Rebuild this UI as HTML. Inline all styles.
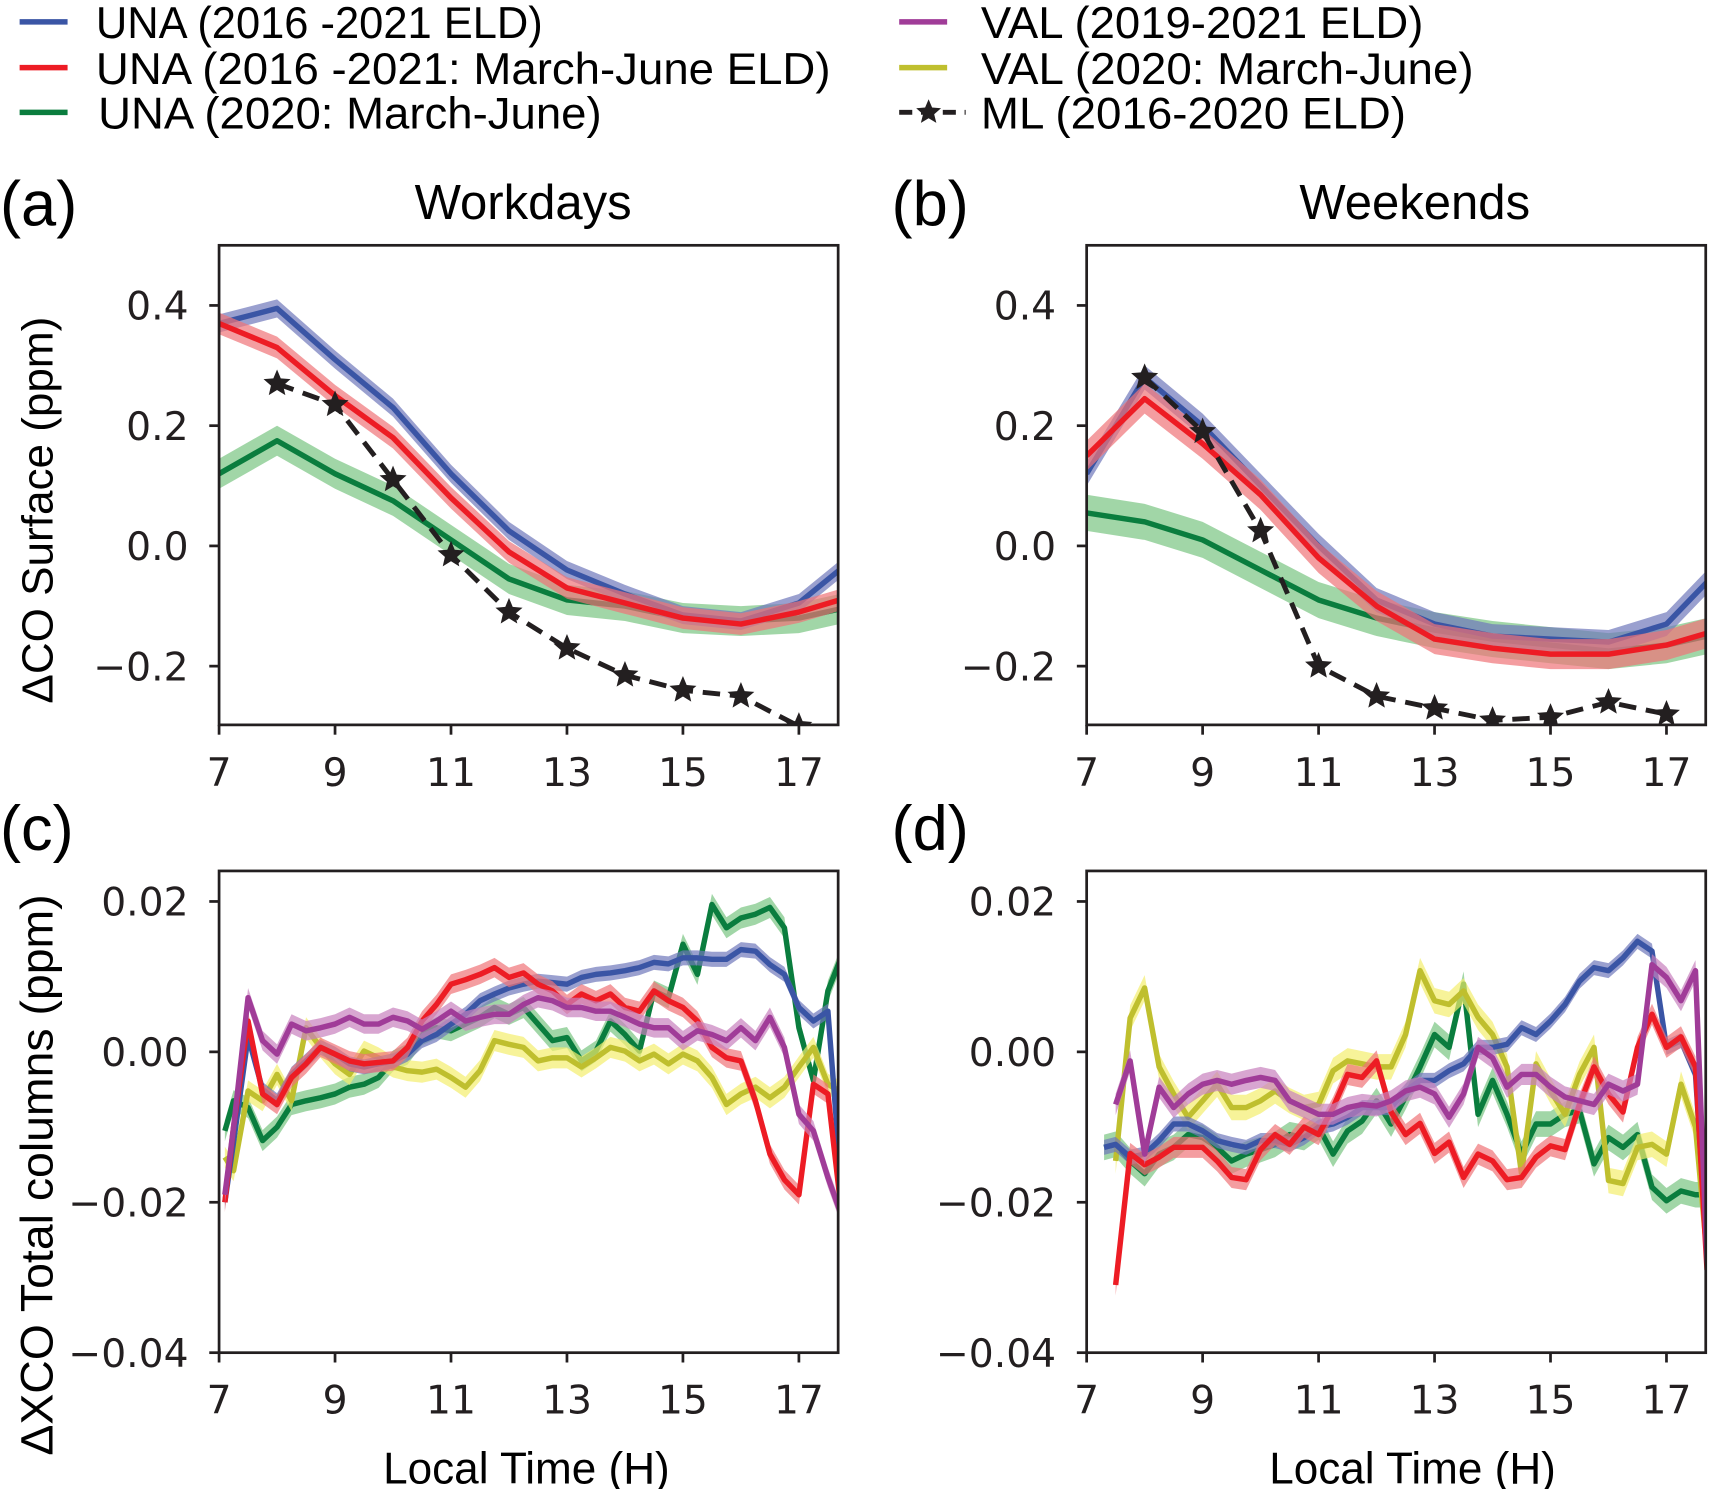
<!DOCTYPE html>
<html><head><meta charset="utf-8">
<style>
html,body{margin:0;padding:0;background:#fff;}
svg{display:block;}
.tk{font-family:"DejaVu Sans","Liberation Sans",sans-serif;font-size:36px;fill:#231f20;}
.lb{font-family:"Liberation Sans",sans-serif;fill:#000;}
</style></head>
<body>
<svg id="fig" width="1709" height="1489" viewBox="0 0 1568 1366" xmlns="http://www.w3.org/2000/svg">
<g id="legend"></g>
<g id="plots"></g>
</svg>
<script>
// ---------- data ----------
const hours = [7,8,9,10,11,12,13,14,15,16,17,17.7];
const mlHours = [8,9,10,11,12,13,14,15,16,17];
const aBlue  = [0.37,0.395,0.31,0.23,0.12,0.025,-0.04,-0.08,-0.115,-0.125,-0.095,-0.04];
const aRed   = [0.37,0.33,0.25,0.18,0.08,-0.01,-0.07,-0.095,-0.12,-0.13,-0.11,-0.09];
const aGreen = [0.12,0.175,0.12,0.075,0.01,-0.055,-0.09,-0.1,-0.12,-0.125,-0.12,-0.105];
const aML    = [0.27,0.235,0.11,-0.015,-0.11,-0.17,-0.215,-0.24,-0.25,-0.3];
const bBlue  = [0.12,0.28,0.2,0.1,0.0,-0.09,-0.13,-0.15,-0.155,-0.16,-0.13,-0.06];
const bRed   = [0.15,0.245,0.17,0.085,-0.02,-0.1,-0.155,-0.17,-0.18,-0.18,-0.165,-0.145];
const bGreen = [0.055,0.04,0.01,-0.04,-0.09,-0.12,-0.14,-0.155,-0.165,-0.175,-0.165,-0.15];
const bML    = [0.28,0.19,0.025,-0.2,-0.25,-0.27,-0.29,-0.285,-0.26,-0.28];

// bottom panels, values in 1e-3 ppm
const cTimes = [7.1,7.25,7.5,7.75,8,8.25,8.5,8.75,9,9.25,9.5,9.75,10,10.25,10.5,10.75,11,11.25,11.5,11.75,12,12.25,12.5,12.75,13,13.25,13.5,13.75,14,14.25,14.5,14.75,15,15.25,15.5,15.75,16,16.25,16.5,16.75,17,17.25,17.5,17.7];
const cRed    = [-20,-10,4.1,-5.6,-7,-3.4,-1.6,0.6,-0.3,-1.2,-1.6,-1.4,-1.2,0.6,4.1,6.3,9,9.6,10.3,11.2,9.9,10.5,9,8.1,6.3,7.7,6.8,7.7,5.9,5.4,8.1,6.8,5.9,4.1,0.6,-0.8,-1.2,-6.5,-13.6,-17,-19,-4.3,-5.6,-19];
const cBlue   = [-20,-12,2,-5,-6.5,-3,-1.2,0.6,-0.3,-1.6,-2,-1.6,-1.2,-0.3,1.5,2.3,3.7,5,6.8,7.7,8.5,9,9.4,9.2,9,9.9,10.3,10.5,10.8,11.2,11.9,11.7,12.5,12.5,12.3,12.3,13.6,13.4,11.6,10.3,5.9,4.1,5.4,-14.5];
const cMag    = [-19,-10,7.2,1.5,-0.3,3.7,2.8,3.2,3.7,4.6,3.7,3.7,4.6,4.1,3,4.1,5.4,4.1,4.6,5,5,6.3,7.2,6.8,5.9,5.9,5.4,5.4,4.6,3.7,3.2,3.2,1.5,2.8,2.3,1.5,3.2,1.5,4.6,0.6,-8.3,-10.5,-16.7,-21];
const cGreen  = [-10.5,-6.5,-7.4,-11.8,-10,-7,-6.5,-6.1,-5.6,-4.7,-4.3,-3.4,-1.2,-0.3,2.3,3.2,2.8,3.7,4.6,5.9,5,5.9,3.7,1.5,1.9,-1.2,0.1,4.1,2.3,0.1,8.1,7.2,14.3,10.3,19.6,16.5,17.8,18.3,19.2,16.5,3.2,-3.8,8.1,12];
const cYellow = [-14,-15.8,-5.2,-6.5,-3,-6.5,3.2,0.6,-1.6,-3,0.1,-0.8,-2,-2.5,-2.7,-2.3,-3.4,-4.7,-2.5,1.5,1,0.6,-1.2,-0.8,-0.8,-2,-0.8,0.6,0.1,-1.2,-0.3,-1.6,-0.3,-1.2,-3.4,-7,-5.6,-4.7,-6.1,-4.7,-2,0.6,-4.3,-5.2];

const dTimes = [7.3,7.5,7.75,8,8.25,8.5,8.75,9,9.25,9.5,9.75,10,10.25,10.5,10.75,11,11.25,11.5,11.75,12,12.25,12.5,12.75,13,13.25,13.5,13.75,14,14.25,14.5,14.75,15,15.25,15.5,15.75,16,16.25,16.5,16.75,17,17.25,17.5,17.7];
const dRed    = [null,-31,-13.5,-15,-14,-12.7,-12.7,-12.7,-14.5,-16.7,-17,-13,-11,-12.3,-10,-11,-7.4,-3,-3.4,-1.2,-8,-11,-9.5,-13.5,-12,-16.7,-13.6,-14.5,-17,-16.7,-14,-12.5,-13,-7,-2,-5.6,-8,0.6,5,0.6,2,-2,-29];
const dBlue   = [-12.7,-12.3,-14,-13.6,-11.8,-9.6,-9.6,-10.5,-11.8,-12.3,-12.7,-11.8,-11.8,-12.3,-11.4,-10,-9.6,-8.7,-7.4,-7.4,-7.4,-5.2,-3.8,-3.8,-2.5,-1.6,0.6,0.6,1,3.2,2.3,4.1,6.3,9.4,11.2,10.8,12.5,14.7,13.4,0.6,1.5,-3,-27];
const dMag    = [null,-7,-1.2,-13.6,-4.7,-7.4,-5.6,-4.3,-3.8,-4.3,-3.8,-3.4,-3.8,-6.5,-7.4,-8.3,-8.3,-7.4,-7,-7.2,-6.5,-5.2,-4.7,-5.6,-8.7,-5.6,0.6,-0.8,-4.7,-3,-3,-4.7,-6,-6.5,-7,-4.3,-5.2,-4.3,11.6,9.9,6.8,10.8,-28];
const dGreen  = [-12.7,-12.3,-14.5,-16.2,-13.6,-12.7,-11,-11.4,-12.7,-14.5,-13.6,-13,-12.3,-11,-11.4,-10,-13.6,-10.5,-9.2,-6.5,-9.6,-6,-2,2.3,0.6,9,-8.3,-3.8,-8.3,-13.6,-9.6,-9.6,-8.3,-7.8,-14.9,-11.4,-12.7,-11,-18,-19.8,-18.5,-19,-19];
const dYellow = [null,-14.5,4.5,8.5,-2,-5.6,-8.7,-6.5,-4.3,-7.4,-7.4,-6.5,-5.2,-6.5,-7.4,-7,-2.5,-1.2,-1.6,-2,-2,2.3,10.8,6.8,6.3,8.1,4.6,2.3,-2,-16.2,-1.6,-5.2,-8.3,-3,0.6,-17.1,-17.5,-12.7,-12.3,-13.6,-4.3,-10,-27];

const xTicks = [7,9,11,13,15,17];
const yTicksTop = [0.4,0.2,0.0,-0.2];
const yTickTopLabels = ["0.4","0.2","0.0","\u22120.2"];
const yTicksBot = [0.02,0.0,-0.02,-0.04];
const yTickBotLabels = ["0.02","0.00","\u22120.02","\u22120.04"];

// ---------- helpers ----------
const NS = "http://www.w3.org/2000/svg";
const COL = {
  blue:{line:"#3a55a5",band:"#6f78bb"},
  red:{line:"#ed1c24",band:"#f07378"},
  green:{line:"#0a7d3e",band:"#79c482"},
  mag:{line:"#a03c98",band:"#c880bd"},
  yellow:{line:"#bfbf2e",band:"#f3ee6e"}
};
function mk(tag, attrs, parent){
  const e = document.createElementNS(NS, tag);
  for (const k in attrs) e.setAttribute(k, attrs[k]);
  if (parent) parent.appendChild(e);
  return e;
}
function makePanel(px0, py0, px1, py1, xMin, xMax, yMin, yMax){
  return {
    x: t => px0 + (t - xMin) / (xMax - xMin) * (px1 - px0),
    y: v => py1 - (v - yMin) / (yMax - yMin) * (py1 - py0),
    px0, py0, px1, py1
  };
}
const plots = document.getElementById('plots');

function drawSeries(g, P, times, vals, scale, col, half, name){
  let segs = [], cur = [];
  for (let i = 0; i < times.length; i++){
    if (vals[i] === null || vals[i] === undefined){ if (cur.length) segs.push(cur); cur = []; }
    else cur.push([times[i], vals[i] * scale]);
  }
  if (cur.length) segs.push(cur);
  segs.forEach(seg => {
    let top = seg.map(p => P.x(p[0]).toFixed(1) + "," + P.y(p[1] + half).toFixed(1));
    let bot = seg.slice().reverse().map(p => P.x(p[0]).toFixed(1) + "," + P.y(p[1] - half).toFixed(1));
    const band = mk('polygon', {points: top.concat(bot).join(" "), fill: col.band, 'fill-opacity': 0.7}, g);
    
    
    const ln = mk('polyline', {points: seg.map(p => P.x(p[0]).toFixed(1) + "," + P.y(p[1]).toFixed(1)).join(" "),
      fill: "none", stroke: col.line, 'stroke-width': 5, 'stroke-linejoin': 'round'}, g);
    
    
  });
}
function starPath(cx, cy, r){
  let d = "";
  for (let i = 0; i < 10; i++){
    const a = -Math.PI/2 + i * Math.PI/5;
    const rr = i % 2 ? r * 0.45 : r;
    d += (i ? "L" : "M") + (cx + rr*Math.cos(a)).toFixed(1) + "," + (cy + rr*Math.sin(a)).toFixed(1);
  }
  return d + "Z";
}
function drawML(g, P, times, vals, name){
  const ln = mk('polyline', {points: times.map((t,i)=>P.x(t).toFixed(1)+","+P.y(vals[i]).toFixed(1)).join(" "),
    fill:"none", stroke:"#231f20", 'stroke-width':4.5, 'stroke-dasharray':'16,9'}, g);
  
  
  times.forEach((t,i)=>{
    const s = mk('path', {d: starPath(P.x(t), P.y(vals[i]), 13), fill:"#231f20"}, g);
    
    
  });
}
function drawAxes(g, P, yTicks, yLabels){
  xTicks.forEach(t => {
    const x = P.x(t);
    mk('line', {x1:x, x2:x, y1:P.py1, y2:P.py1+9, stroke:"#231f20", 'stroke-width':2.5}, g);
    const tx = mk('text', {x:x, y:P.py1+56, 'text-anchor':'middle', class:'tk'}, g);
    tx.textContent = t;
    
    
  });
  yTicks.forEach((v,i) => {
    const y = P.y(v);
    mk('line', {x1:P.px0-9, x2:P.px0, y1:y, y2:y, stroke:"#231f20", 'stroke-width':2.5}, g);
    const tx = mk('text', {x:P.px0-28, y:y+13, 'text-anchor':'end', class:'tk'}, g);
    tx.textContent = yLabels[i];
    
    
  });
  const fr = mk('rect', {x:P.px0, y:P.py0, width:P.px1-P.px0, height:P.py1-P.py0, fill:"none", stroke:"#231f20", 'stroke-width':2.5}, g);
  
  
}
function clip(id, P){
  const cp = mk('clipPath', {id:id}, plots);
  mk('rect', {x:P.px0, y:P.py0, width:P.px1-P.px0, height:P.py1-P.py0}, cp);
}

// ---------- panels ----------
const PA = makePanel(201,225,769,665, 7, 17.677, -0.2977, 0.5);
const PB = makePanel(997,225,1565,665, 7, 17.677, -0.2977, 0.5);
const PC = makePanel(201,799,769,1241, 7, 17.677, -0.04, 0.02406);
const PD = makePanel(997,799,1565,1241, 7, 17.677, -0.04, 0.02406);

[[PA,'a'],[PB,'b'],[PC,'c'],[PD,'d']].forEach(([P,id])=>clip('clip-'+id,P));

function panelGroup(name, id){
  const g = mk('g', {'clip-path':'url(#clip-'+id+')'}, plots);
  
  
  return g;
}
let g = panelGroup('panel-a-series','a');
drawSeries(g, PA, hours, aGreen, 1, COL.green, 0.025, 'una-2020');
drawSeries(g, PA, hours, aBlue, 1, COL.blue, 0.015, 'una-eld');
drawSeries(g, PA, hours, aRed, 1, COL.red, 0.018, 'una-march-june');
drawML(g, PA, mlHours, aML, 'ml');
g = panelGroup('panel-b-series','b');
drawSeries(g, PB, hours, bGreen, 1, COL.green, 0.03, 'una-2020');
drawSeries(g, PB, hours, bBlue, 1, COL.blue, 0.02, 'una-eld');
drawSeries(g, PB, hours, bRed, 1, COL.red, 0.025, 'una-march-june');
drawML(g, PB, mlHours, bML, 'ml');
g = panelGroup('panel-c-series','c');
drawSeries(g, PC, cTimes, cGreen, 0.001, COL.green, 0.0014, 'una-2020');
drawSeries(g, PC, cTimes, cYellow, 0.001, COL.yellow, 0.0014, 'val-2020');
drawSeries(g, PC, cTimes, cBlue, 0.001, COL.blue, 0.001, 'una-eld');
drawSeries(g, PC, cTimes, cRed, 0.001, COL.red, 0.0013, 'una-march-june');
drawSeries(g, PC, cTimes, cMag, 0.001, COL.mag, 0.0013, 'val-eld');
g = panelGroup('panel-d-series','d');
drawSeries(g, PD, dTimes, dGreen, 0.001, COL.green, 0.0017, 'una-2020');
drawSeries(g, PD, dTimes, dYellow, 0.001, COL.yellow, 0.0017, 'val-2020');
drawSeries(g, PD, dTimes, dBlue, 0.001, COL.blue, 0.001, 'una-eld');
drawSeries(g, PD, dTimes, dRed, 0.001, COL.red, 0.0014, 'una-march-june');
drawSeries(g, PD, dTimes, dMag, 0.001, COL.mag, 0.0014, 'val-eld');

const axg = mk('g', {}, plots);


drawAxes(axg, PA, yTicksTop, yTickTopLabels);
drawAxes(axg, PB, yTicksTop, yTickTopLabels);
drawAxes(axg, PC, yTicksBot, yTickBotLabels);
drawAxes(axg, PD, yTicksBot, yTickBotLabels);

// ---------- labels ----------
function txt(s, attrs, name, parent){
  const t = mk('text', attrs, parent || plots);
  t.textContent = s;
  
  
  return t;
}
txt('(a)', {x:0, y:207, class:'lb', 'font-size':58}, 'panel-label-a');
txt('(b)', {x:818, y:207, class:'lb', 'font-size':58}, 'panel-label-b');
txt('(c)', {x:0, y:780, class:'lb', 'font-size':58}, 'panel-label-c');
txt('(d)', {x:818, y:780, class:'lb', 'font-size':58}, 'panel-label-d');
txt('Workdays', {x:480, y:201, class:'lb', 'font-size':45, 'text-anchor':'middle'}, 'title-workdays');
txt('Weekends', {x:1298, y:201, class:'lb', 'font-size':45, 'text-anchor':'middle'}, 'title-weekends');
txt('\u0394CO Surface (ppm)', {x:0, y:0, class:'lb', 'font-size':40, 'text-anchor':'middle', textLength:355, lengthAdjust:'spacingAndGlyphs', transform:'translate(48,468) rotate(-90)'}, 'y-axis-title-surface');
txt('\u0394XCO Total columns  (ppm)', {x:0, y:0, class:'lb', 'font-size':42, 'text-anchor':'middle', textLength:515, lengthAdjust:'spacingAndGlyphs', transform:'translate(48,1078) rotate(-90)'}, 'y-axis-title-columns');
txt('Local Time (H)', {x:483, y:1361, class:'lb', 'font-size':41, 'text-anchor':'middle', textLength:263, lengthAdjust:'spacingAndGlyphs'}, 'x-axis-title-c');
txt('Local Time (H)', {x:1296, y:1361, class:'lb', 'font-size':41, 'text-anchor':'middle', textLength:263, lengthAdjust:'spacingAndGlyphs'}, 'x-axis-title-d');

// ---------- legend ----------
const lg = document.getElementById('legend');
const legendItems = [
  ['UNA (2016 -2021 ELD)', COL.blue.line, 18, 88, 20, 'legend-una-eld', 410],
  ['UNA (2016 -2021: March-June ELD)', COL.red.line, 18, 88, 62, 'legend-una-march-june', 674],
  ['UNA (2020: March-June)', COL.green.line, 18, 90, 103, 'legend-una-2020', 462],
  ['VAL (2019-2021 ELD)', COL.mag.line, 825, 900, 20, 'legend-val-eld', 406],
  ['VAL (2020: March-June)', COL.yellow.line, 825, 900, 62, 'legend-val-2020', 452],
];
legendItems.forEach(([s,c,lx,tx,y,name,w])=>{
  const item = mk('g', {}, lg);
  
  
  mk('line', {x1:lx, x2:lx+44, y1:y, y2:y, stroke:c, 'stroke-width':5}, item);
  txt(s, {x:tx, y:y+15, class:'lb', 'font-size':41, textLength:w, lengthAdjust:'spacingAndGlyphs'}, name+'-text', item);
});
const mlItem = mk('g', {}, lg);


mk('line', {x1:825, x2:886, y1:103, y2:103, stroke:'#231f20', 'stroke-width':4.5, 'stroke-dasharray':'12,8'}, mlItem);
mk('path', {d: starPath(852,103,12), fill:'#231f20'}, mlItem);
txt('ML (2016-2020 ELD)', {x:900, y:118, class:'lb', 'font-size':41, textLength:390, lengthAdjust:'spacingAndGlyphs'}, 'legend-ml-text', mlItem);
</script>
</body></html>
